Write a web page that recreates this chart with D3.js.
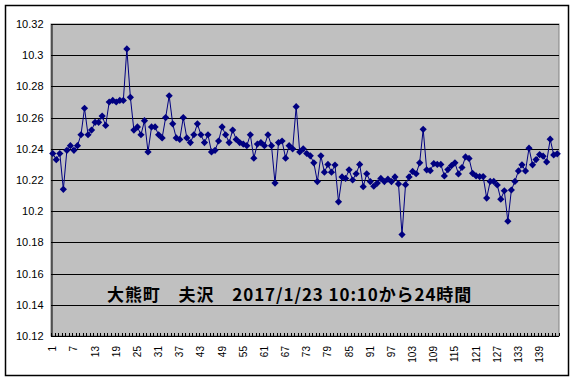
<!DOCTYPE html>
<html>
<head>
<meta charset="utf-8">
<script src="https://cdn.jsdelivr.net/npm/d3@7"></script>
<style>
  html, body { margin: 0; padding: 0; background: #fff; }
  svg { display: block; }
</style>
</head>
<body>
<svg id="chart" width="575" height="381"></svg>
<script>
const values = [
  10.237, 10.233, 10.237, 10.214, 10.239, 10.242, 10.239, 10.242, 10.249, 10.266,
  10.249, 10.252, 10.257, 10.257, 10.261, 10.255, 10.270, 10.271, 10.270, 10.271,
  10.271, 10.304, 10.273, 10.252, 10.254, 10.249, 10.258, 10.238, 10.254, 10.254,
  10.249, 10.247, 10.260, 10.274, 10.256, 10.247, 10.246, 10.260, 10.247, 10.244,
  10.249, 10.256, 10.249, 10.244, 10.249, 10.238, 10.239, 10.245, 10.254, 10.249,
  10.244, 10.252, 10.246, 10.244, 10.243, 10.242, 10.249, 10.234, 10.243, 10.244,
  10.242, 10.249, 10.242, 10.218, 10.244, 10.245, 10.234, 10.242, 10.240, 10.267,
  10.238, 10.240, 10.237, 10.2355, 10.231, 10.219, 10.2355, 10.225, 10.230, 10.225,
  10.2296, 10.206, 10.222, 10.221, 10.2265, 10.220, 10.224, 10.230, 10.2157, 10.224,
  10.219, 10.216, 10.218, 10.221, 10.219, 10.2205, 10.219, 10.222, 10.2175, 10.185,
  10.217, 10.222, 10.2255, 10.224, 10.231, 10.2525, 10.2265, 10.226, 10.2305, 10.230,
  10.230, 10.2226, 10.2267, 10.2292, 10.231, 10.2239, 10.228, 10.2348, 10.2338, 10.2243,
  10.2226, 10.2222, 10.2222, 10.2084, 10.2191, 10.2191, 10.2168, 10.2077, 10.2131, 10.1936,
  10.2136, 10.2191, 10.2258, 10.2297, 10.2258, 10.2404, 10.2297, 10.2331, 10.2363, 10.2353,
  10.2316, 10.2462, 10.2361, 10.2368
];
const categories = values.map((v, i) => i + 1);
const xTickLabels = categories.filter(c => (c - 1) % 6 === 0);
const yTicks = [10.12, 10.14, 10.16, 10.18, 10.2, 10.22, 10.24, 10.26, 10.28, 10.3, 10.32];
const title = "大熊町\u3000夫沢\u30002017/1/23 10:10から24時間";

const svg = d3.select("#chart");
const plot = { left: 51, top: 24, right: 559, bottom: 336 };

// outer chart border
svg.append("rect")
  .attr("x", 5.5).attr("y", 5.5).attr("width", 563).attr("height", 370)
  .attr("fill", "#fff").attr("stroke", "#000").attr("stroke-width", 1.5);

const x = d3.scaleBand().domain(categories).range([plot.left, plot.right]).padding(0);
const y = d3.scaleLinear().domain([10.12, 10.32]).range([plot.bottom, plot.top]);

// plot background
svg.append("rect")
  .attr("x", plot.left).attr("y", plot.top)
  .attr("width", plot.right - plot.left).attr("height", plot.bottom - plot.top)
  .attr("fill", "#C0C0C0").attr("stroke", "#808080").attr("stroke-width", 1);

// gridlines
svg.append("g").selectAll("line").data(yTicks).join("line")
  .attr("x1", plot.left).attr("x2", plot.right)
  .attr("y1", d => Math.round(y(d)) + 0.5).attr("y2", d => Math.round(y(d)) + 0.5)
  .attr("stroke", "#000").attr("stroke-width", 1);

// y axis
const yAxis = d3.axisLeft(y).tickValues(yTicks).tickSize(0).tickPadding(8)
  .tickFormat(d => d3.format("")(+d.toFixed(2)));
const gy = svg.append("g").attr("transform", `translate(${plot.left + 0.5},0)`).call(yAxis);
gy.select(".domain").attr("stroke", "#000");
gy.selectAll("text").attr("font-family", "Arial, 'Liberation Sans', sans-serif")
  .attr("font-size", 11).attr("fill", "#000");

// x axis baseline & ticks at category boundaries
const bounds = categories.map(c => x(c)).concat([plot.right]);
svg.append("g").selectAll("line").data(bounds).join("line")
  .attr("x1", d => Math.round(d) + 0.5).attr("x2", d => Math.round(d) + 0.5)
  .attr("y1", plot.bottom - 3).attr("y2", plot.bottom)
  .attr("stroke", "#000").attr("stroke-width", 1);
svg.append("line")
  .attr("x1", plot.left).attr("x2", plot.right)
  .attr("y1", plot.bottom + 0.5).attr("y2", plot.bottom + 0.5)
  .attr("stroke", "#000");

// x labels rotated
svg.append("g").selectAll("text").data(xTickLabels).join("text")
  .attr("transform", d => `translate(${x(d) + x.bandwidth() / 2 + 3.5},${plot.bottom + 10}) rotate(-90)`)
  .attr("text-anchor", "end")
  .attr("font-family", "Arial, 'Liberation Sans', sans-serif")
  .attr("font-size", 10).attr("fill", "#000")
  .text(d => d);

// line
const line = d3.line().x((d, i) => x(categories[i]) + x.bandwidth() / 2).y(d => y(d));
svg.append("path").datum(values)
  .attr("d", line).attr("fill", "none").attr("stroke", "#000080").attr("stroke-width", 1);

// diamond markers
svg.append("g").selectAll("path").data(values).join("path")
  .attr("transform", (d, i) => `translate(${x(categories[i]) + x.bandwidth() / 2},${y(d)})`)
  .attr("d", "M0,-3.6L3.6,0L0,3.6L-3.6,0Z")
  .attr("fill", "#000080");

// title
svg.append("text")
  .attr("x", 107).attr("y", 301)
  .attr("font-family", "'Noto Sans CJK JP', sans-serif")
  .attr("font-weight", "bold").attr("font-size", 17).attr("letter-spacing", 0.9).attr("fill", "#000")
  .text(title);
</script>
</body>
</html>
